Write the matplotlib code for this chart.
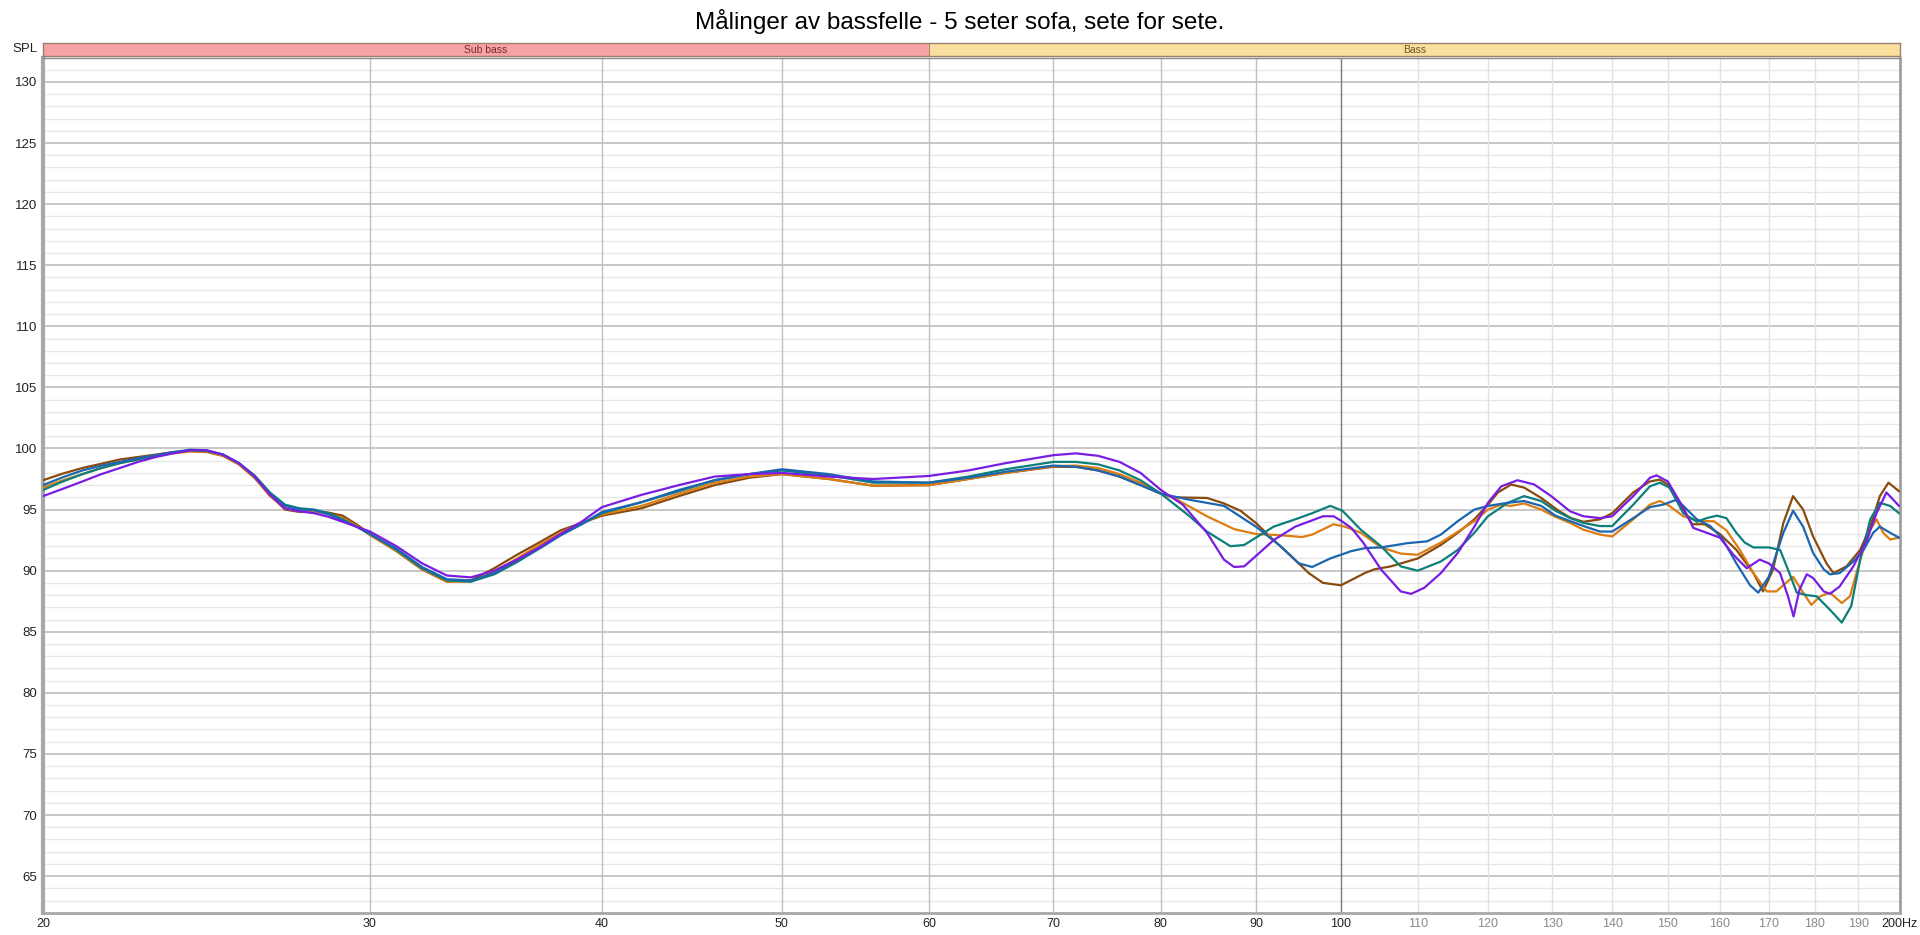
import numpy as np
import matplotlib
matplotlib.use('Agg')
from matplotlib import pyplot as plt

plt.rcParams['font.family'] = ['Liberation Sans', 'DejaVu Sans']

title = 'Målinger av bassfelle - 5 seter sofa, sete for sete.'

# frequency points (Hz) shared by all curves below 80 Hz
freq_low = [20, 20.5, 21, 21.5, 22, 22.5, 23, 23.5, 24, 24.5, 25, 25.5, 26, 26.5, 27, 27.5, 28, 28.5,
            29, 29.5, 30, 31, 32, 33, 34, 35, 36, 37, 38, 39,
            40, 42, 44, 46, 48, 50, 53, 56, 60, 63, 66, 70, 72, 74, 76, 78, 80]

brown_low = [97.4, 97.95, 98.4, 98.75, 99.1, 99.3, 99.5, 99.7, 99.8, 99.75, 99.4, 98.7, 97.6, 96.2, 95.0,
             94.8, 94.85, 94.75, 94.5, 93.8, 93.0, 91.6, 90.1, 89.1, 89.2,
             90.2, 91.3, 92.3, 93.3, 93.9, 94.5, 95.1, 96.1, 97.0, 97.6, 97.9, 97.5, 96.95, 97.0, 97.5,
             98.0, 98.5, 98.5, 98.2, 97.7, 97.0, 96.3]
orange_low = [96.8, 97.4, 97.9, 98.4, 98.8, 99.1, 99.4, 99.6, 99.75, 99.7, 99.4, 98.7, 97.6, 96.1, 95.1,
              94.85, 94.85, 94.65, 94.3, 93.7, 92.9, 91.6, 90.1, 89.1, 89.1,
              89.9, 91.0, 92.1, 93.1, 93.9, 94.6, 95.3, 96.3, 97.2, 97.7, 97.9, 97.5, 96.95, 97.0, 97.5,
              98.0, 98.55, 98.6, 98.4, 97.9, 97.2, 96.3]
teal_low = [96.6, 97.3, 97.9, 98.4, 98.8, 99.1, 99.4, 99.65, 99.85, 99.8, 99.5, 98.8, 97.8, 96.4, 95.4,
            95.1, 95.0, 94.7, 94.2, 93.6, 93.0, 91.7, 90.2, 89.2, 89.1,
            89.7, 90.7, 91.8, 92.9, 93.8, 94.7, 95.6, 96.5, 97.4, 97.9, 98.2, 97.8, 97.2, 97.2, 97.7,
            98.3, 98.9, 98.9, 98.7, 98.2, 97.4, 96.3]
blue_low = [97.0, 97.65, 98.2, 98.6, 98.9, 99.2, 99.45, 99.7, 99.9, 99.85, 99.5, 98.8, 97.7, 96.3, 95.3,
            95.0, 94.95, 94.6, 94.1, 93.6, 93.0, 91.8, 90.3, 89.3, 89.2,
            89.8, 90.8, 91.8, 92.9, 93.8, 94.8, 95.6, 96.6, 97.4, 97.9, 98.3, 97.9, 97.3, 97.2, 97.6,
            98.1, 98.6, 98.5, 98.2, 97.7, 97.0, 96.3]
purple_low = [96.1, 96.7, 97.3, 97.9, 98.4, 98.9, 99.3, 99.6, 99.85, 99.85, 99.5, 98.8, 97.7, 96.2, 95.1,
              94.85, 94.7, 94.4, 94.0, 93.6, 93.2, 92.0, 90.6, 89.6, 89.45,
              90.0, 90.9, 91.9, 93.0, 94.0, 95.2, 96.2, 97.0, 97.7, 97.9, 98.0, 97.7, 97.5, 97.75, 98.2,
              98.8, 99.45, 99.6, 99.4, 98.9, 98.0, 96.6]

# above 80 Hz every curve has its own points
brown_f = [81.2, 84.7, 86.5, 88.3, 90, 92, 94, 96.1, 97.8, 100, 101.5, 103, 104.2, 106.4, 110, 113.2,
           115.6, 118, 120, 121.5, 123.5, 125.5, 128.2, 131, 133, 135.1, 137.9, 140, 143.7, 146.7,
           148.5, 150, 152.9, 154.6, 157, 160, 163.3, 166.8, 168.8, 170.9, 173.1, 175.2, 177.4,
           179.6, 182.6, 184.2, 187.2, 190.4, 192.8, 195.1, 197.2, 199.8]
brown_v = [96.0, 95.95, 95.5, 94.9, 93.9, 92.5, 91.2, 89.8, 89.0, 88.8, 89.3, 89.8, 90.1, 90.35, 91.0, 92.1,
           93.1, 94.2, 95.4, 96.4, 97.05, 96.8, 95.95, 94.9, 94.3, 94.0, 94.2, 94.7, 96.4, 97.3,
           97.45, 97.05, 95.0, 93.8, 93.8, 93.0, 91.7, 89.8, 88.3, 90.1, 93.9, 96.1, 95.0,
           92.8, 90.6, 89.8, 90.35, 91.7, 93.6, 96.1, 97.2, 96.5]

orange_f = [81.2, 84.7, 87.6, 90, 92.8, 95.3, 96.5, 99.1, 100.5, 102.5, 105.1, 107.7, 110, 113.2, 118,
            120, 122, 123.5, 125.5, 128.2, 130.5, 132.9, 135.1, 137.9, 140, 143.7, 146.7, 148.5,
            150.3, 152.9, 156.1, 158.8, 161.3, 164, 166.8, 169.6, 171.6, 175.2, 177.4, 179.2, 181.2,
            183.4, 186.1, 188, 190.4, 192.8, 194.3, 195.9, 197.6, 199.8]
orange_v = [96.0, 94.45, 93.4, 93.0, 92.9, 92.75, 92.95, 93.8, 93.6, 93.1, 91.9, 91.4, 91.3, 92.3, 94.05,
            95.0, 95.4, 95.3, 95.5, 95.0, 94.4, 93.9, 93.35, 92.95, 92.8, 94.2, 95.4, 95.7,
            95.3, 94.45, 94.05, 94.05, 93.3, 91.7, 89.8, 88.3, 88.3, 89.5, 88.2, 87.2, 87.9,
            88.2, 87.35, 87.9, 90.9, 93.35, 94.2, 93.1, 92.55, 92.7]

teal_f = [82.9, 84.7, 87.2, 88.7, 90, 92, 94.9, 96.5, 98.7, 100.2, 102.5, 105.1, 107.7, 110, 113.2,
          115.6, 118, 120, 123, 125.5, 128.2, 130.5, 132.9, 135.1, 137.9, 140, 143.7, 146.7, 148.5,
          150.3, 152.9, 155.5, 157.4, 159.4, 161.3, 163.3, 165, 166.8, 170, 172.4, 174.4, 176,
          178.2, 180.4, 183.4, 186.1, 188.3, 190.4, 192.8, 195.1, 197.6, 199.8]
teal_v = [94.45, 93.2, 92.0, 92.1, 92.7, 93.6, 94.3, 94.7, 95.3, 94.9, 93.35, 92.0, 90.35, 90.0, 90.75,
          91.7, 93.1, 94.45, 95.55, 96.1, 95.7, 94.9, 94.3, 93.9, 93.65, 93.65, 95.4, 96.9, 97.2,
          96.8, 94.7, 94.0, 94.3, 94.5, 94.3, 93.1, 92.3, 91.9, 91.9, 91.7, 89.8, 88.2,
          88.0, 87.9, 86.8, 85.75, 87.1, 90.9, 94.2, 95.55, 95.3, 94.7]

blue_f = [82.9, 86.5, 90, 92.8, 94.9, 96.5, 98.7, 100, 101.3, 103.1, 105.1, 108.6, 111.3, 113.2, 115.6,
          118, 120, 123, 125.5, 128.2, 130.5, 132.9, 135.1, 137.9, 140, 143.7, 146.7, 149.1, 151.6,
          152.9, 155.5, 158.1, 160.5, 163.3, 166.1, 167.8, 170, 173.1, 175.2, 177.4, 179.6, 182,
          183.4, 185.6, 188.8, 191.2, 193.5, 195.1, 197.6, 199.8]
blue_v = [95.8, 95.3, 93.6, 92.0, 90.6, 90.3, 91.0, 91.3, 91.6, 91.85, 91.9, 92.25, 92.4, 92.95, 94.05,
          95.0, 95.3, 95.55, 95.7, 95.3, 94.5, 94.05, 93.65, 93.2, 93.2, 94.3, 95.2, 95.4, 95.8,
          95.3, 94.2, 93.65, 92.6, 90.6, 88.8, 88.2, 89.5, 93.1, 94.9, 93.6, 91.45, 90.1,
          89.7, 89.8, 90.75, 91.7, 93.1, 93.6, 93.1, 92.7]

purple_f = [82.2, 84.7, 86.5, 87.6, 88.7, 90, 92, 94.5, 97.8, 99.1, 100, 101.3, 102.8, 105.1, 107.7,
            109.1, 110.9, 113.2, 115.6, 118, 120, 122, 124.5, 127.1, 129.8, 132.9, 135.1, 137.9, 140,
            143.7, 146.7, 147.9, 150, 152.9, 154.8, 157.4, 160, 162.7, 165.4, 168.1, 170, 172.4,
            174.1, 175.3, 176.6, 178.2, 179.6, 182, 183.4, 185.6, 188.8, 192, 194.3, 196.7, 199.8]
purple_v = [95.4, 93.1, 90.9, 90.3, 90.35, 91.2, 92.5, 93.6, 94.45, 94.45, 94.1, 93.5, 92.3, 90.1, 88.3,
            88.1, 88.6, 89.8, 91.45, 93.6, 95.55, 96.9, 97.4, 97.05, 96.1, 94.85, 94.45, 94.3, 94.45,
            96.1, 97.6, 97.8, 97.3, 95.15, 93.5, 93.1, 92.7, 91.3, 90.2, 90.9, 90.6, 89.8,
            87.9, 86.25, 88.45, 89.7, 89.4, 88.3, 88.1, 88.7, 90.35, 92.55, 94.7, 96.4, 95.3]

x_ticks = [20, 30, 40, 50, 60, 70, 80, 90, 100, 110, 120, 130, 140, 150, 160, 170, 180, 190, 200]
x_labels = ['20', '30', '40', '50', '60', '70', '80', '90', '100', '110', '120', '130', '140',
            '150', '160', '170', '180', '190', '200Hz']
y_ticks = [65, 70, 75, 80, 85, 90, 95, 100, 105, 110, 115, 120, 125, 130]

bands = [('Sub bass', 20, 60, '#f8a3a3', '#7a2a2a'), ('Bass', 60, 200, '#fbdf9e', '#6a5a28')]

series = [
    (freq_low + brown_f, brown_low + brown_v, '#8a4a0e'),
    (freq_low + orange_f, orange_low + orange_v, '#dc7d12'),
    (freq_low + teal_f, teal_low + teal_v, '#0c7f7b'),
    (freq_low + blue_f, blue_low + blue_v, '#1c66b0'),
    (freq_low + purple_f, purple_low + purple_v, '#7a1de2'),
]

fig = plt.figure(figsize=(19.2, 9.35), dpi=100)
L, R = 0.0224, 0.9895
ax = fig.add_axes([L, 0.0238, R - L, 0.9385 - 0.0238])
ax.set_xscale('log')
ax.set_xlim(20, 200)
ax.set_ylim(62, 132)

# grid
for v in range(62, 133):
    if v % 5 == 0:
        ax.axhline(v, color='#c4c4c4', lw=1.3, zorder=1)
    else:
        ax.axhline(v, color='#e6e6e6', lw=1.0, zorder=0.5)
for f in x_ticks[1:-1]:
    if f == 100:
        c = '#7a7a7a'
    elif f < 100:
        c = '#c0c0c0'
    else:
        c = '#e2e2e2'
    ax.axvline(f, color=c, lw=1.0, zorder=1)

for fx, vy, c in series:
    ax.plot(fx, vy, color=c, lw=1.6, zorder=3, solid_joinstyle='round')

ax.set_xticks(x_ticks)
ax.set_xticklabels(x_labels, fontsize=9)
ax.xaxis.set_minor_locator(matplotlib.ticker.NullLocator())
ax.set_yticks(y_ticks)
ax.set_yticklabels([str(t) for t in y_ticks], fontsize=9.5, color='#222222')
ax.tick_params(length=0, pad=4)
for lbl, f in zip(ax.get_xticklabels(), x_ticks):
    lbl.set_color('#8a8a8a' if 100 < f < 200 else '#222222')

ax.spines['left'].set_color('#a8a8a8')
ax.spines['left'].set_linewidth(3)
ax.spines['bottom'].set_color('#a8a8a8')
ax.spines['bottom'].set_linewidth(2)
ax.spines['top'].set_color('#8c8c8c')
ax.spines['top'].set_linewidth(1)
ax.spines['right'].set_color('#a0a0a0')
ax.spines['right'].set_linewidth(2)

# band bar
bx = fig.add_axes([L, 0.9401, R - L, 0.0142])
bx.set_xscale('log')
bx.set_xlim(20, 200)
bx.set_ylim(0, 1)
for name, f0, f1, fc, tc in bands:
    bx.axvspan(f0, f1, color=fc, lw=0)
    bx.text(np.sqrt(f0 * f1), 0.45, name, ha='center', va='center', fontsize=7.5, color=tc)
bx.axvline(60, color='#b09070', lw=0.8)
bx.set_xticks([])
bx.set_yticks([])
bx.xaxis.set_minor_locator(matplotlib.ticker.NullLocator())
for s in bx.spines.values():
    s.set_color('#9a8070')
    s.set_linewidth(1)

fig.text(0.0197, 1 - 48.5 / 935, 'SPL', ha='right', va='center', fontsize=9.5, color='#222222')
fig.text(0.5, 1 - 22 / 935, title, ha='center', va='center', fontsize=17.5)

fig.savefig('out.png', dpi=100, facecolor='white')
